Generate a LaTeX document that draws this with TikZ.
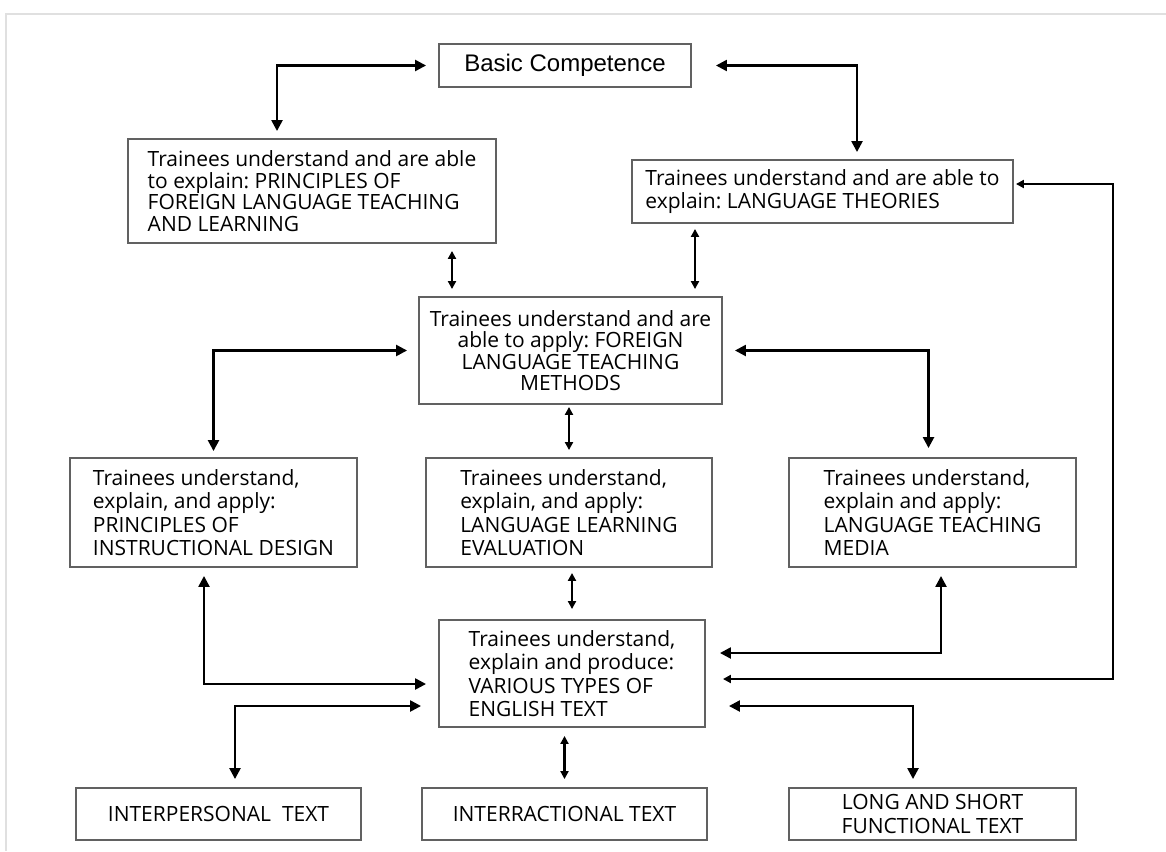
\documentclass[tikz,border=0pt]{standalone}
\usepackage{fontspec}
\setmainfont{Open Sans}
\newfontfamily\headfont{Liberation Sans}
\usetikzlibrary{arrows.meta}
\frenchspacing

\tikzset{
  box/.style={draw=black!62, line width=1.9pt, inner sep=0pt, align=left,
    font=\fontsize{21pt}{23.5pt}\selectfont},
  tight/.style={font=\fontsize{21pt}{21.5pt}\selectfont},
  link/.style={line width=2.4pt,
    {Triangle[length=11pt,width=11pt]}-{Triangle[length=11pt,width=11pt]}},
  slink/.style={line width=2.1pt,
    {Triangle[length=8pt,width=8pt]}-{Triangle[length=8pt,width=8pt]}},
}

\begin{document}
\begin{tikzpicture}[x=1pt,y=-1pt]
      \useasboundingbox (0,0) rectangle (1166,851);
      \draw[black!12, line width=1.5pt] (6,851) -- (6,14) -- (1166,14);
      \draw
        (565,65.5) node[box, font=\headfont\fontsize{24pt}{28pt}\selectfont,
          minimum width=252pt, minimum height=43pt] (basic) {Basic Competence}
        (312,191) node[box, tight, minimum width=368pt, minimum height=104pt] (pfl)
          {Trainees understand and are able\\ to explain: PRINCIPLES OF\\
          FOREIGN LANGUAGE TEACHING\\ AND LEARNING}
        (822.5,191.5) node[box, minimum width=381pt, minimum height=63pt] (lt)
          {Trainees understand and are able to\\ explain: LANGUAGE THEORIES}
        (570.5,350.5) node[box, tight, align=center, minimum width=303pt,
          minimum height=107pt] (fltm) {Trainees understand and are\\
          able to apply: FOREIGN\\ LANGUAGE TEACHING\\ METHODS}
        (213.5,512.5) node[box, minimum width=287pt, minimum height=109pt] (pid)
          {Trainees understand,\\ explain, and apply:\\ PRINCIPLES OF\\
          INSTRUCTIONAL DESIGN}
        (569,512.5) node[box, minimum width=286pt, minimum height=109pt] (lle)
          {Trainees understand,\\ explain, and apply:\\ LANGUAGE LEARNING\\
          EVALUATION}
        (932.5,512.5) node[box, minimum width=287pt, minimum height=109pt] (ltm)
          {Trainees understand,\\ explain and apply:\\ LANGUAGE TEACHING\\ MEDIA}
        (572,673.5) node[box, minimum width=266pt, minimum height=107pt] (vtet)
          {Trainees understand,\\ explain and produce:\\ VARIOUS TYPES OF\\
          ENGLISH TEXT}
        (218.5,814) node[box, align=center, minimum width=285pt,
          minimum height=52pt] (ipt) {INTERPERSONAL~ TEXT}
        (564.5,814) node[box, align=center, minimum width=285pt,
          minimum height=52pt] (irt) {INTERRACTIONAL TEXT}
        (932.5,814) node[box, align=center, minimum width=287pt,
          minimum height=52pt] (lsf) {LONG AND SHORT\\ FUNCTIONAL TEXT};
      \coordinate (rim) at (1113,430);
      \begin{scope}
        \draw[link, shorten <=12pt, shorten >=7pt] (basic.west) -| ([xshift=-35pt]pfl.north);
        \draw[link, shorten <=24pt, shorten >=7pt] (basic.east) -| ([xshift=34.5pt]lt.north);
        \draw[slink, shorten <=7pt, shorten >=7pt] ([xshift=140pt]pfl.south) -- ([xshift=140pt]pfl.south |- fltm.north);
        \draw[slink, shorten <=5pt, shorten >=7pt] ([xshift=124.5pt]fltm.north |- lt.south) -- ([xshift=124.5pt]fltm.north);
        \draw[link, shorten <=11pt, shorten >=6pt] (fltm.west) -| (pid.north);
        \draw[link, shorten <=12pt, shorten >=9pt] (fltm.east) -| ([xshift=-4pt]ltm.north);
        \draw[slink, shorten <=2pt, shorten >=7pt] (lle.north |- fltm.south) -- (lle.north);
        \draw[slink, shorten <=5pt, shorten >=10pt] (vtet.north |- lle.south) -- (vtet.north);
        \draw[link, shorten <=8pt, shorten >=12pt] ([xshift=-9.5pt]pid.south) |- ([yshift=-10.5pt]vtet.west);
        \draw[link, shorten <=17pt, shorten >=8pt] ([yshift=-32.5pt]vtet.west) -| ([xshift=16.5pt]ipt.north);
        \draw[slink, shorten <=8pt, shorten >=8pt] (irt.north |- vtet.south) -- (irt.north);
        \draw[link, shorten <=14pt, shorten >=8pt] ([yshift=20.5pt]vtet.east) -| ([xshift=8.5pt]ltm.south);
        \draw[slink, shorten <=17pt, shorten >=2pt] ([yshift=-5.5pt]vtet.east) -| (rim) |- ([yshift=7.5pt]lt.east);
        \draw[link, shorten <=23pt, shorten >=8pt] ([yshift=-32.5pt]vtet.east) -| ([xshift=-19.5pt]lsf.north);
      \end{scope}
    \end{tikzpicture}
\end{document}
